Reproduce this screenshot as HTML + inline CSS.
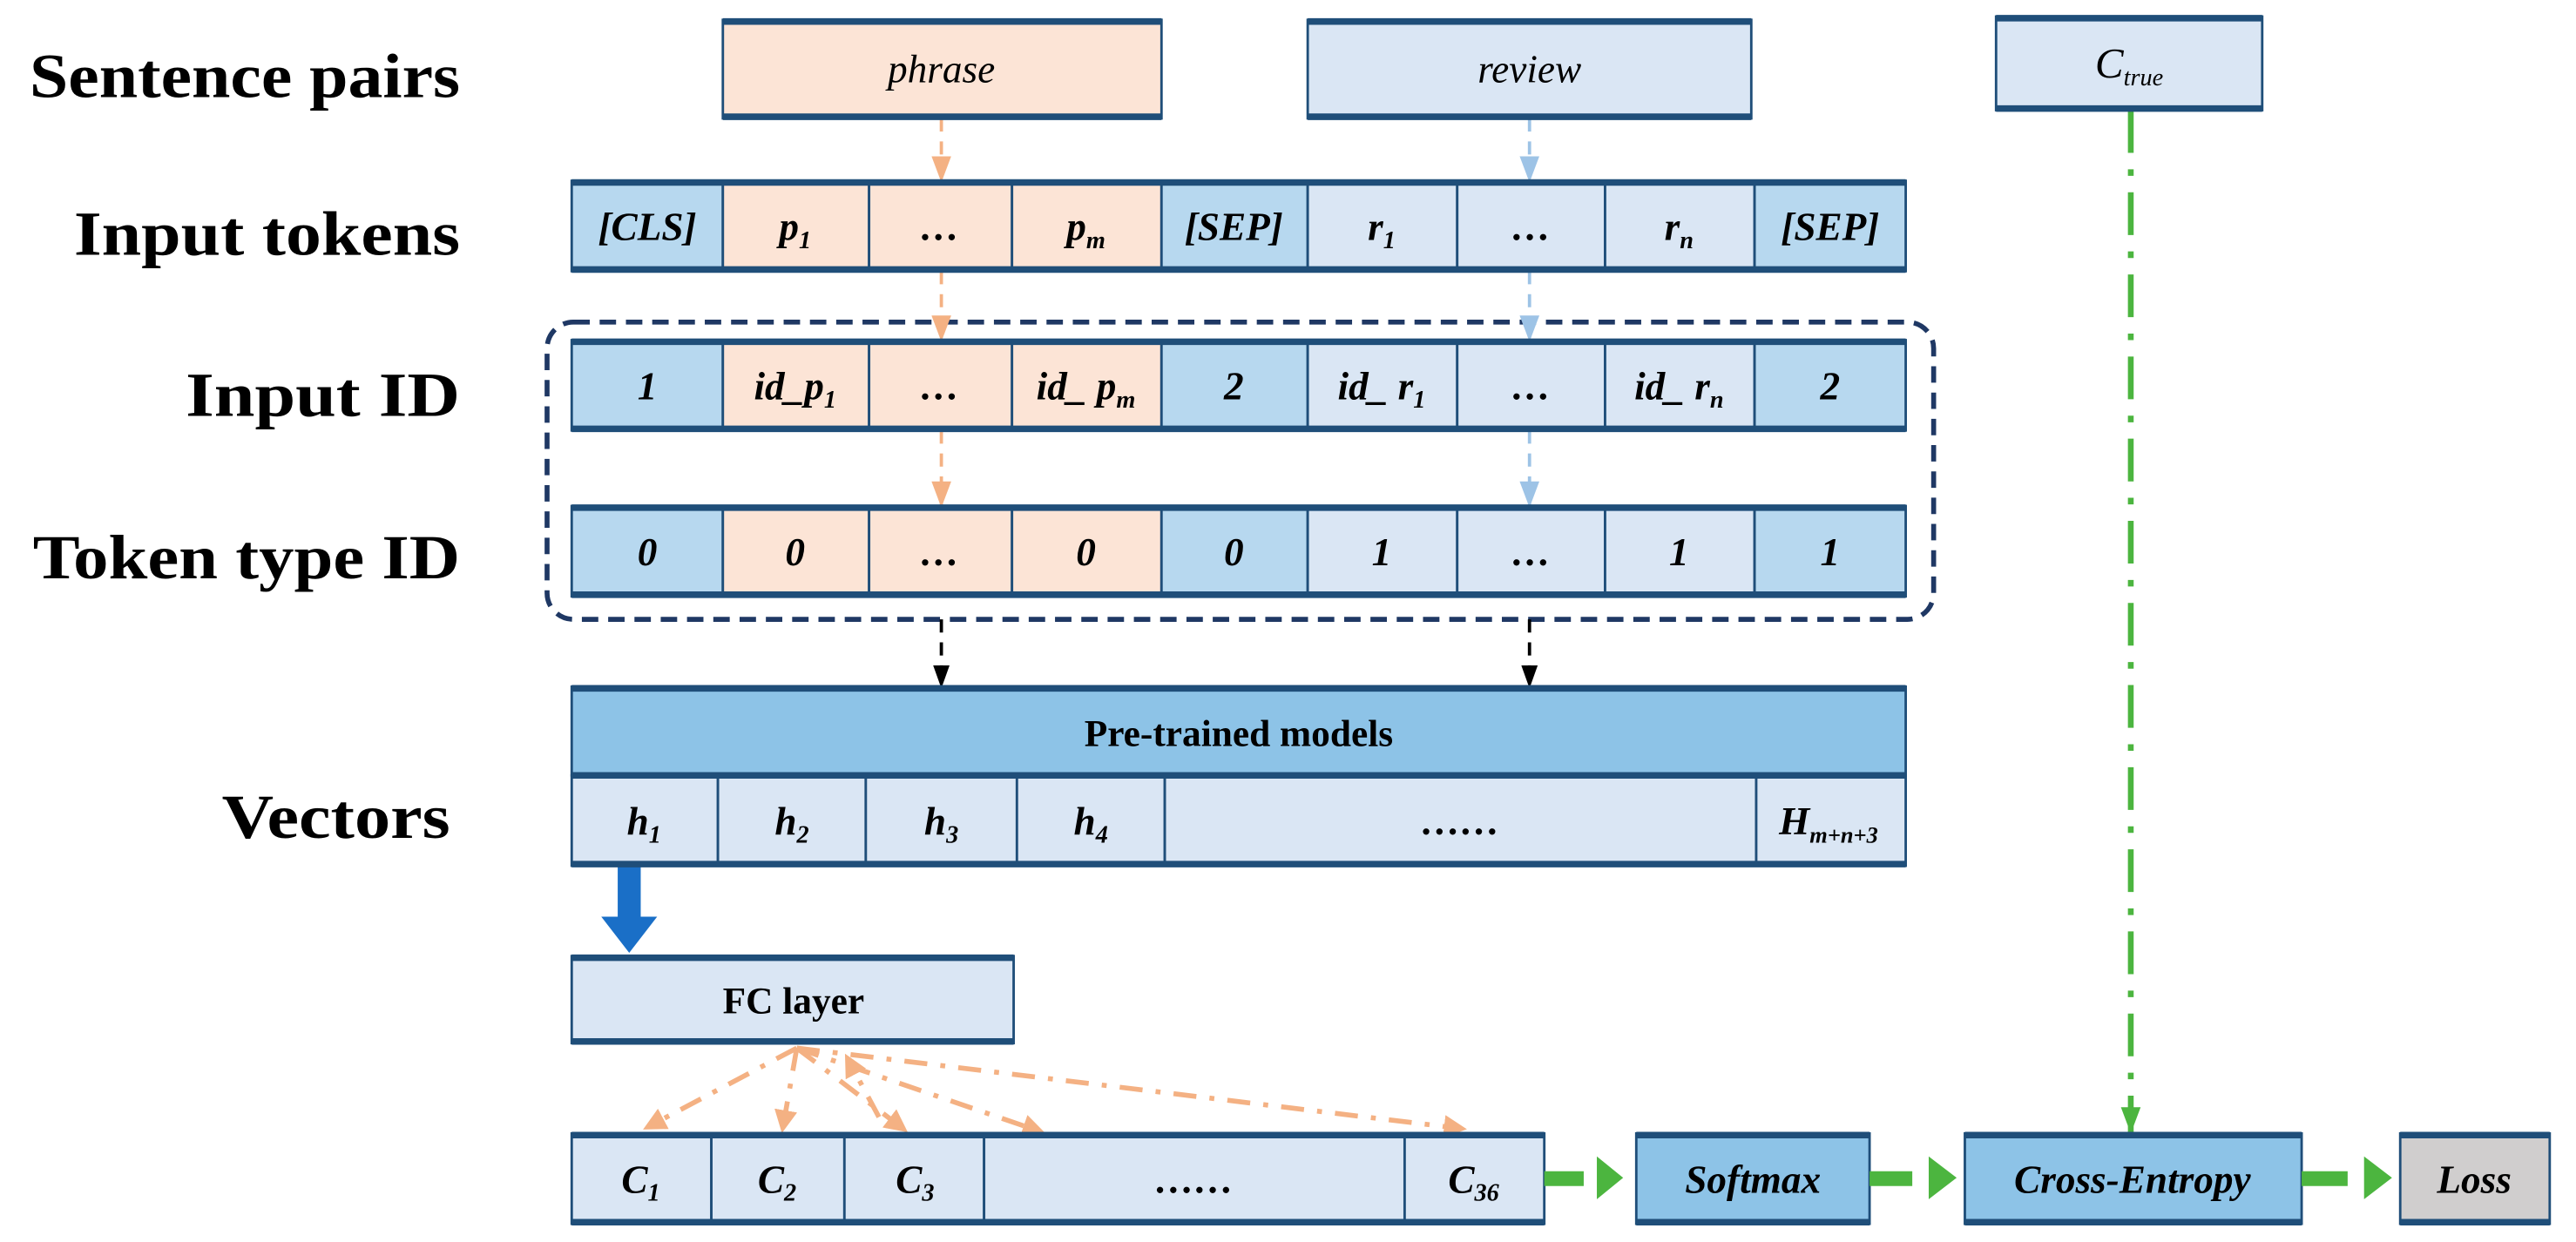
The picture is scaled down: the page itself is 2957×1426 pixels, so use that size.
<!DOCTYPE html>
<html><head><meta charset="utf-8"><style>html,body{margin:0;padding:0;background:#fff}svg{display:block}</style></head>
<body>
<svg width="2957" height="1426" viewBox="0 0 1568 756" xmlns="http://www.w3.org/2000/svg" font-family="'Liberation Serif',serif">
<defs>
<marker id="ao" markerWidth="12" markerHeight="16" refX="6" refY="15" markerUnits="userSpaceOnUse" viewBox="0 0 12 16"><path d="M0,0 L12,0 L6,16z" fill="#f4b183"/></marker>
<marker id="ab" markerWidth="12" markerHeight="16" refX="6" refY="15" markerUnits="userSpaceOnUse" viewBox="0 0 12 16"><path d="M0,0 L12,0 L6,16z" fill="#9dc3e6"/></marker>
<marker id="ak" markerWidth="10" markerHeight="14" refX="5" refY="13" markerUnits="userSpaceOnUse" viewBox="0 0 10 14"><path d="M0,0 L10,0 L5,14z" fill="#000"/></marker>
<marker id="ag" markerWidth="12" markerHeight="16" refX="6" refY="15" markerUnits="userSpaceOnUse" viewBox="0 0 12 16"><path d="M0,0 L12,0 L6,16z" fill="#4cb53f"/></marker>
<marker id="ar" markerWidth="14" markerHeight="14" refX="2" refY="7" orient="auto" markerUnits="userSpaceOnUse" viewBox="0 0 14 14"><path d="M0,0 L14,7 L0,14z" fill="#f4b183"/></marker>
</defs>
<g font-weight="bold" font-size="38" fill="#000">
<text x="18" y="59" textLength="262" lengthAdjust="spacingAndGlyphs">Sentence pairs</text>
<text x="45" y="155" textLength="235" lengthAdjust="spacingAndGlyphs">Input tokens</text>
<text x="113" y="253" textLength="167" lengthAdjust="spacingAndGlyphs">Input ID</text>
<text x="20" y="352" textLength="260" lengthAdjust="spacingAndGlyphs">Token type ID</text>
<text x="135" y="510" textLength="139" lengthAdjust="spacingAndGlyphs">Vectors</text>
</g>
<rect x="333" y="196" width="844" height="181" rx="16" fill="none" stroke="#1f3864" stroke-width="3" stroke-dasharray="10,6"/>
<g stroke-width="2" fill="none" stroke-dasharray="8,6">
<line x1="573" y1="72" x2="573" y2="110" stroke="#f4b183" marker-end="url(#ao)"/>
<line x1="573" y1="165" x2="573" y2="207" stroke="#f4b183" marker-end="url(#ao)"/>
<line x1="573" y1="262" x2="573" y2="308" stroke="#f4b183" marker-end="url(#ao)"/>
<line x1="931" y1="72" x2="931" y2="110" stroke="#9dc3e6" marker-end="url(#ab)"/>
<line x1="931" y1="165" x2="931" y2="207" stroke="#9dc3e6" marker-end="url(#ab)"/>
<line x1="931" y1="262" x2="931" y2="308" stroke="#9dc3e6" marker-end="url(#ab)"/>
<line x1="573" y1="377" x2="573" y2="418" stroke="#000" marker-end="url(#ak)"/>
<line x1="931" y1="377" x2="931" y2="418" stroke="#000" marker-end="url(#ak)"/>
</g>
<line x1="1297" y1="67" x2="1297" y2="689" stroke="#4cb53f" stroke-width="3.5" stroke-dasharray="26,10,4,10" marker-end="url(#ag)"/>
<g stroke="#f4b183" stroke-width="3" stroke-dasharray="14,8,3,8" fill="none" marker-end="url(#ar)">
<line x1="485" y1="638" x2="402" y2="682"/>
<line x1="485" y1="638" x2="478" y2="678"/>
<line x1="485" y1="638" x2="543" y2="682"/>
<line x1="485" y1="638" x2="625" y2="686"/>
<line x1="485" y1="638" x2="881" y2="686"/>
<line x1="535" y1="680" x2="520" y2="652"/>
</g>
<rect x="376" y="527" width="14" height="33" fill="#1a6fc7"/>
<path d="M366,558 L400,558 L383,580z" fill="#1a6fc7"/>
<g stroke="#1f4e79" stroke-width="1.5">
<rect x="440" y="12" width="267" height="60" fill="#fce4d6"/>
<rect x="796" y="12" width="270" height="60" fill="#dae6f4"/>
<rect x="1215" y="10" width="162" height="57" fill="#dae6f4"/>
<rect x="348" y="110" width="92" height="55" fill="#b7d8ef"/>
<rect x="440" y="110" width="89" height="55" fill="#fce4d6"/>
<rect x="529" y="110" width="87" height="55" fill="#fce4d6"/>
<rect x="616" y="110" width="91" height="55" fill="#fce4d6"/>
<rect x="707" y="110" width="89" height="55" fill="#b7d8ef"/>
<rect x="796" y="110" width="91" height="55" fill="#dae6f4"/>
<rect x="887" y="110" width="90" height="55" fill="#dae6f4"/>
<rect x="977" y="110" width="91" height="55" fill="#dae6f4"/>
<rect x="1068" y="110" width="92" height="55" fill="#b7d8ef"/>
<rect x="348" y="207" width="92" height="55" fill="#b7d8ef"/>
<rect x="440" y="207" width="89" height="55" fill="#fce4d6"/>
<rect x="529" y="207" width="87" height="55" fill="#fce4d6"/>
<rect x="616" y="207" width="91" height="55" fill="#fce4d6"/>
<rect x="707" y="207" width="89" height="55" fill="#b7d8ef"/>
<rect x="796" y="207" width="91" height="55" fill="#dae6f4"/>
<rect x="887" y="207" width="90" height="55" fill="#dae6f4"/>
<rect x="977" y="207" width="91" height="55" fill="#dae6f4"/>
<rect x="1068" y="207" width="92" height="55" fill="#b7d8ef"/>
<rect x="348" y="308" width="92" height="55" fill="#b7d8ef"/>
<rect x="440" y="308" width="89" height="55" fill="#fce4d6"/>
<rect x="529" y="308" width="87" height="55" fill="#fce4d6"/>
<rect x="616" y="308" width="91" height="55" fill="#fce4d6"/>
<rect x="707" y="308" width="89" height="55" fill="#b7d8ef"/>
<rect x="796" y="308" width="91" height="55" fill="#dae6f4"/>
<rect x="887" y="308" width="90" height="55" fill="#dae6f4"/>
<rect x="977" y="308" width="91" height="55" fill="#dae6f4"/>
<rect x="1068" y="308" width="92" height="55" fill="#b7d8ef"/>
<rect x="348" y="418" width="812" height="54" fill="#8dc3e7"/>
<rect x="348" y="472" width="89" height="55" fill="#dae6f4"/>
<rect x="437" y="472" width="90" height="55" fill="#dae6f4"/>
<rect x="527" y="472" width="92" height="55" fill="#dae6f4"/>
<rect x="619" y="472" width="90" height="55" fill="#dae6f4"/>
<rect x="709" y="472" width="360" height="55" fill="#dae6f4"/>
<rect x="1069" y="472" width="91" height="55" fill="#dae6f4"/>
<rect x="348" y="582" width="269" height="53" fill="#dae6f4"/>
<rect x="348" y="690" width="85" height="55" fill="#dae6f4"/>
<rect x="433" y="690" width="81" height="55" fill="#dae6f4"/>
<rect x="514" y="690" width="85" height="55" fill="#dae6f4"/>
<rect x="599" y="690" width="256" height="55" fill="#dae6f4"/>
<rect x="855" y="690" width="85" height="55" fill="#dae6f4"/>
<rect x="996" y="690" width="142" height="55" fill="#8dc3e7"/>
<rect x="1196" y="690" width="205" height="55" fill="#8dc3e7"/>
<rect x="1461" y="690" width="91" height="55" fill="#d0cece"/>
</g>
<g stroke="#1f4e79" stroke-width="4">
<line x1="440" y1="13" x2="707" y2="13"/><line x1="440" y1="71" x2="707" y2="71"/>
<line x1="796" y1="13" x2="1066" y2="13"/><line x1="796" y1="71" x2="1066" y2="71"/>
<line x1="1215" y1="11" x2="1377" y2="11"/><line x1="1215" y1="66" x2="1377" y2="66"/>
<line x1="348" y1="111" x2="1160" y2="111"/><line x1="348" y1="164" x2="1160" y2="164"/>
<line x1="348" y1="208" x2="1160" y2="208"/><line x1="348" y1="261" x2="1160" y2="261"/>
<line x1="348" y1="309" x2="1160" y2="309"/><line x1="348" y1="362" x2="1160" y2="362"/>
<line x1="348" y1="419" x2="1160" y2="419"/><line x1="348" y1="472" x2="1160" y2="472"/><line x1="348" y1="526" x2="1160" y2="526"/>
<line x1="348" y1="583" x2="617" y2="583"/><line x1="348" y1="634" x2="617" y2="634"/>
<line x1="348" y1="691" x2="940" y2="691"/><line x1="348" y1="744" x2="940" y2="744"/>
<line x1="996" y1="691" x2="1138" y2="691"/><line x1="996" y1="744" x2="1138" y2="744"/>
<line x1="1196" y1="691" x2="1401" y2="691"/><line x1="1196" y1="744" x2="1401" y2="744"/>
<line x1="1461" y1="691" x2="1552" y2="691"/><line x1="1461" y1="744" x2="1552" y2="744"/>
</g>
<g fill="#4cb53f">
<rect x="940" y="713" width="24" height="9"/><path d="M972,704 L988,717 L972,730z"/>
<rect x="1138" y="713" width="26" height="9"/><path d="M1174,704 L1191,717 L1174,730z"/>
<rect x="1401" y="713" width="28" height="9"/><path d="M1439,704 L1456,717 L1439,730z"/>
</g>
<g font-style="italic" font-weight="bold" font-size="24" text-anchor="middle" fill="#000">
<text x="573" y="50" font-weight="normal">phrase</text>
<text x="931" y="50" font-weight="normal">review</text>
<text x="1296" y="47" font-weight="normal" font-size="26">C<tspan font-size="15" dy="5">true</tspan></text>
<text x="394" y="146">[CLS]</text>
<text x="484" y="146">p<tspan font-size="15" dy="5">1</tspan></text>
<text x="572" y="146">…</text>
<text x="661" y="146">p<tspan font-size="15" dy="5">m</tspan></text>
<text x="751" y="146">[SEP]</text>
<text x="841" y="146">r<tspan font-size="15" dy="5">1</tspan></text>
<text x="932" y="146">…</text>
<text x="1022" y="146">r<tspan font-size="15" dy="5">n</tspan></text>
<text x="1114" y="146">[SEP]</text>
<text x="394" y="243">1</text>
<text x="484" y="243">id_p<tspan font-size="15" dy="5">1</tspan></text>
<text x="572" y="243">…</text>
<text x="661" y="243">id_ p<tspan font-size="15" dy="5">m</tspan></text>
<text x="751" y="243">2</text>
<text x="841" y="243">id_ r<tspan font-size="15" dy="5">1</tspan></text>
<text x="932" y="243">…</text>
<text x="1022" y="243">id_ r<tspan font-size="15" dy="5">n</tspan></text>
<text x="1114" y="243">2</text>
<text x="394" y="344">0</text><text x="484" y="344">0</text><text x="572" y="344">…</text><text x="661" y="344">0</text>
<text x="751" y="344">0</text><text x="841" y="344">1</text><text x="932" y="344">…</text><text x="1022" y="344">1</text><text x="1114" y="344">1</text>
<text x="392" y="508">h<tspan font-size="15" dy="5">1</tspan></text>
<text x="482" y="508">h<tspan font-size="15" dy="5">2</tspan></text>
<text x="573" y="508">h<tspan font-size="15" dy="5">3</tspan></text>
<text x="664" y="508">h<tspan font-size="15" dy="5">4</tspan></text>
<text x="889" y="508">……</text>
<text x="1113" y="508">H<tspan font-size="14" dy="5">m+n+3</tspan></text>
<text x="390" y="726">C<tspan font-size="15" dy="5">1</tspan></text>
<text x="473" y="726">C<tspan font-size="15" dy="5">2</tspan></text>
<text x="557" y="726">C<tspan font-size="15" dy="5">3</tspan></text>
<text x="727" y="726">……</text>
<text x="897" y="726">C<tspan font-size="15" dy="5">36</tspan></text>
<text x="1067" y="726">Softmax</text>
<text x="1298" y="726">Cross-Entropy</text>
<text x="1506" y="726">Loss</text>
</g>
<g font-weight="bold" font-size="23" text-anchor="middle">
<text x="754" y="454">Pre-trained models</text>
<text x="483" y="617">FC layer</text>
</g>
</svg>
</body></html>
